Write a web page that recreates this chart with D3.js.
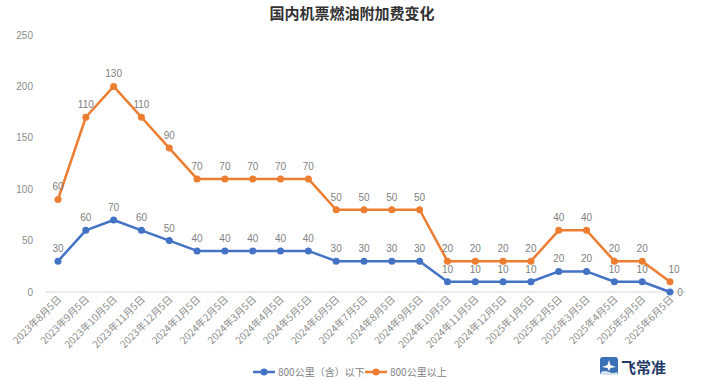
<!DOCTYPE html>
<html><head><meta charset="utf-8">
<script src="https://cdn.jsdelivr.net/npm/d3@7"></script>
<style>body{margin:0;background:#fff;font-family:"Noto Sans CJK SC","Noto Sans",sans-serif;}</style>
</head><body><svg id="c" width="720" height="380"></svg>
<script>
const categories = ["2023年8月5日","2023年9月5日","2023年10月5日","2023年11月5日","2023年12月5日","2024年1月5日","2024年2月5日","2024年3月5日","2024年4月5日","2024年5月5日","2024年6月5日","2024年7月5日","2024年8月5日","2024年9月5日","2024年10月5日","2024年11月5日","2024年12月5日","2025年1月5日","2025年2月5日","2025年3月5日","2025年4月5日","2025年5月5日","2025年6月5日"];
const below800 = [30,60,70,60,50,40,40,40,40,40,30,30,30,30,10,10,10,10,20,20,10,10,0];
const above800 = [60,110,130,110,90,70,70,70,70,70,50,50,50,50,20,20,20,20,40,40,20,20,10];
const yTicks = [0,50,100,150,200,250];
const seriesNames = ["800公里（含）以下","800公里以上"];
const colors = ["#4472C4","#ED7D31"];

const svg = d3.select("#c");
const x = d3.scalePoint().domain(categories).range([58,670]);
const y = d3.scaleLinear().domain([0,250]).range([292,35]);

svg.append("text").attr("x",352).attr("y",19).attr("text-anchor","middle")
  .attr("font-size",15).attr("font-weight","bold").attr("fill","#333").text("国内机票燃油附加费变化");

// y axis labels
svg.append("g").selectAll("text").data(yTicks).join("text")
  .attr("x",33).attr("y",d=>y(d)+3.5).attr("text-anchor","end")
  .attr("font-size",10).attr("fill","#8c8c8c").attr("font-family","Liberation Sans, sans-serif").text(d=>d);

// baseline
svg.append("line").attr("x1",45).attr("x2",686).attr("y1",y(0)).attr("y2",y(0)).attr("stroke","#d9d9d9").attr("stroke-width",1);

// x labels
svg.append("g").selectAll("text").data(categories).join("text")
  .attr("transform",d=>`translate(${x(d)+4},${300}) rotate(-45)`)
  .attr("text-anchor","end").attr("font-size",10).attr("fill","#8c8c8c").text(d=>d);

const stacked = above800.map((v,i)=>v+below800[i]);
const series = [
  {vals: below800, pos: below800, color: colors[0]},
  {vals: above800, pos: stacked, color: colors[1]}
];
const line = d3.line().x((d,i)=>x(categories[i])).y(d=>y(d));
series.forEach((s,si)=>{
  const g = svg.append("g");
  g.append("path").datum(s.pos).attr("d",line).attr("fill","none").attr("stroke",s.color).attr("stroke-width",2.5).attr("stroke-linejoin","round");
  g.selectAll("circle").data(s.pos).join("circle").attr("cx",(d,i)=>x(categories[i])).attr("cy",d=>y(d)).attr("r",3.5).attr("fill",s.color);
  g.selectAll("text").data(s.vals).join("text")
    .attr("x",(d,i)=>{ const last = i===categories.length-1; return x(categories[i]) + (last ? (si===0?10:4) : 0); })
    .attr("y",(d,i)=>{ const last = i===categories.length-1; return (si===0&&last) ? y(s.pos[i])+4 : y(s.pos[i])-9; })
    .attr("text-anchor","middle").attr("font-size",10).attr("fill","#7f7f7f").attr("font-family","Liberation Sans, sans-serif").text(d=>d);
});

// legend
const leg = svg.append("g");
const lx = [253, 365];
seriesNames.forEach((n,i)=>{
  leg.append("line").attr("x1",lx[i]).attr("x2",lx[i]+22).attr("y1",372).attr("y2",372).attr("stroke",colors[i]).attr("stroke-width",2.5);
  leg.append("circle").attr("cx",lx[i]+11).attr("cy",372).attr("r",3.5).attr("fill",colors[i]);
  leg.append("text").attr("x",lx[i]+25).attr("y",375.5).attr("font-size",10).attr("fill","#7f7f7f").text(n);
});

// logo
const lg = svg.append("g").attr("transform","translate(600,357)");
lg.append("rect").attr("width",18).attr("height",18).attr("rx",3).attr("fill","#3b6fb6");
lg.append("path").attr("d","M9 3 L10.5 8 L16 10 L10.5 11 L9 14 L7.5 11 L2 10 L7.5 8 Z").attr("fill","#fff");
lg.append("path").attr("d","M1 15 Q5 13 9 15 T17 15 L17 18 L1 18 Z").attr("fill","#fff").attr("opacity",0.8);
svg.append("text").attr("x",621).attr("y",373).attr("font-size",15).attr("font-weight","bold").attr("fill","#233a66").text("飞常准");
</script></body></html>
